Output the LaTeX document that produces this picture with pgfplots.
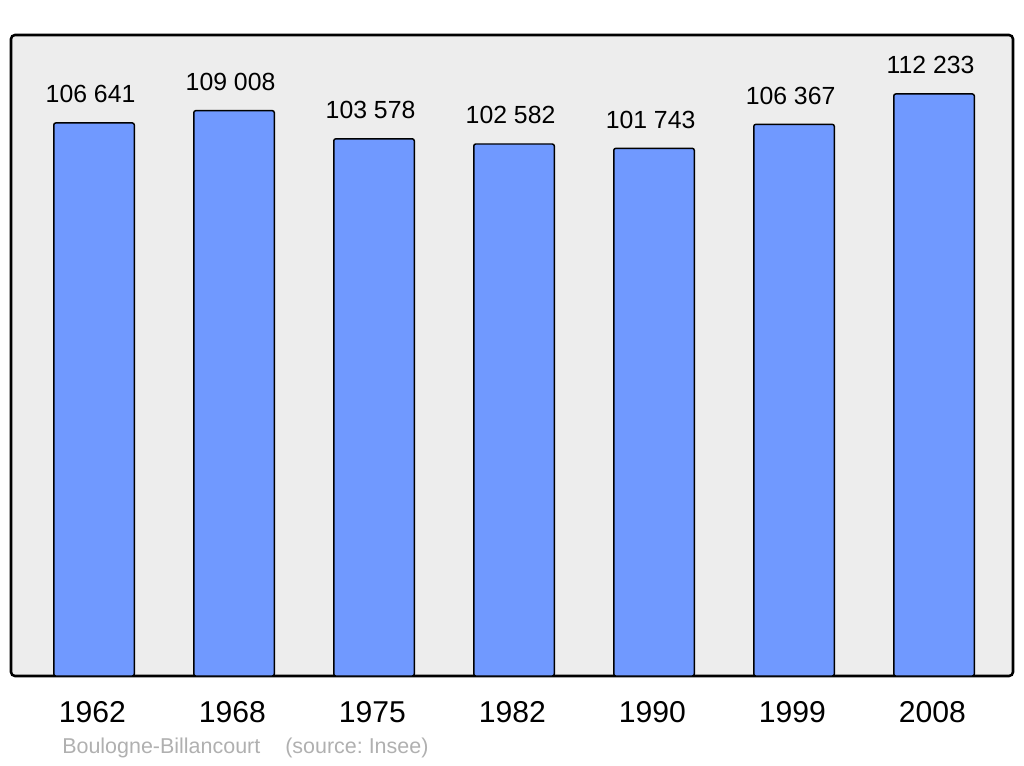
\documentclass[border=0pt]{standalone}
\usepackage{fontspec}
\setmainfont{Liberation Sans}
\usepackage{pgfplots}
\pgfplotsset{compat=1.18}
\definecolor{barblue}{RGB}{112,153,255}
\definecolor{panelgray}{RGB}{237,237,237}
\definecolor{srcgray}{RGB}{176,176,176}
\frenchspacing
\begin{document}
\begin{tikzpicture}
\path (0pt,0pt) rectangle (768pt,573.75pt);
\begin{axis}[
  at={(8.25pt,66.75pt)}, anchor=south west,
  scale only axis, width=751.5pt, height=480.75pt,
  xmin=-0.593, xmax=6.564, ymin=0, ymax=123600,
  axis line style={draw=none},
  axis background/.style={fill=panelgray, draw=black, line width=1.9pt, rounded corners=3pt},
  ybar, bar width=0.575,
  ytick=\empty,
  xtick=data,
  xticklabels={1962,1968,1975,1982,1990,1999,2008},
  major tick length=0pt,
  xticklabel style={anchor=base, inner sep=0pt, yshift=-34.5pt, xshift=-1.2pt, font=\fontsize{22.6}{22.6}\selectfont},
  nodes near coords,
  point meta=explicit symbolic,
  every node near coord/.append style={anchor=base, inner sep=0pt, yshift=15pt, xshift=-2.6pt, font=\fontsize{18.6}{18.6}\selectfont},
  clip=false,
]
\addplot[fill=barblue, draw=black, line width=1.1pt, rounded corners=1.5pt] coordinates {
  (0,106641) [106 641]
  (1,109008) [109 008]
  (2,103578) [103 578]
  (3,102582) [102 582]
  (4,101743) [101 743]
  (5,106367) [106 367]
  (6,112233) [112 233]
};
\end{axis}
\node[anchor=base west, inner sep=0pt, text=srcgray, font=\fontsize{16.1}{16.1}\selectfont] at (46.5pt,8.6pt) {Boulogne-Billancourt};
\node[anchor=base west, inner sep=0pt, text=srcgray, font=\fontsize{16.1}{16.1}\selectfont] at (213.75pt,8.6pt) {(source: Insee)};
\end{tikzpicture}
\end{document}
